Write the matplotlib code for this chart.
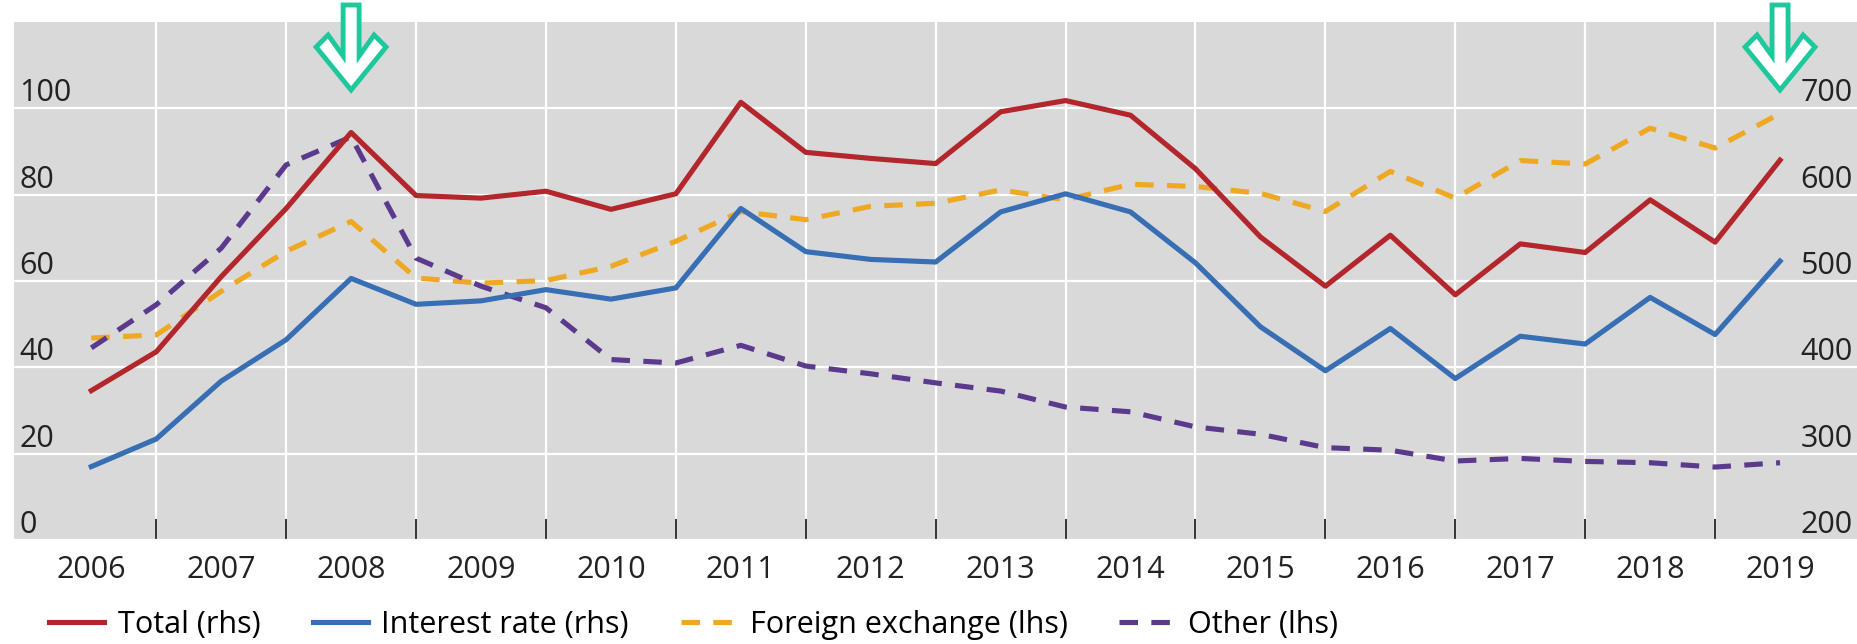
import numpy as np
import matplotlib.pyplot as plt
from matplotlib.patches import Polygon

# semiannual observations, 2006 to 2019
periods = np.arange(2006.0, 2019.5, 0.5)
years = list(range(2006, 2020))

# rhs (USD trn)
total = [373, 418, 505, 584, 672, 599, 596, 604, 583, 601, 707, 649, 642, 636,
         696, 709, 692, 630, 551, 494, 553, 484, 543, 533, 594, 545, 640]
interest_rate = [285, 317, 384, 432, 503, 473, 477, 490, 479, 492, 584, 534, 525, 522,
                 580, 601, 580, 521, 447, 396, 445, 387, 436, 427, 481, 438, 523]
# lhs (USD trn)
foreign_exchange = [46.8, 47.5, 57.6, 66.9, 73.8, 60.7, 59.5, 60.1, 63.4, 69.2, 76.1, 74.2, 77.3, 78.0,
                    81.1, 78.8, 82.4, 81.9, 80.3, 76.1, 85.4, 79.2, 87.9, 87.1, 95.4, 90.8, 98.8]
other = [44.5, 54.5, 67.6, 86.9, 93.4, 65.3, 58.8, 53.8, 41.8, 41.0, 45.1, 40.3, 38.5, 36.4,
         34.5, 30.8, 29.7, 26.2, 24.5, 21.4, 20.8, 18.3, 18.9, 18.2, 17.9, 16.9, 17.9]

lhs_ticks = [0, 20, 40, 60, 80, 100]
rhs_ticks = [200, 300, 400, 500, 600, 700]
arrow_years = [2008, 2019]

red = '#b2262c'
blue = '#376eb4'
orange = '#efa821'
purple = '#5b3a8e'
green = '#1dc99c'

plt.rcParams['font.family'] = ['Open Sans', 'DejaVu Sans']
fs = 22

W, H = 1858, 644
fig = plt.figure(figsize=(W / 100, H / 100), dpi=100)
ax = fig.add_axes([14 / W, 104 / H, 1844 / W, 518 / H])
ax.set_facecolor('#d9d9d9')
ax2 = ax.twinx()

lw = 3.7
l_fx, = ax.plot(periods, foreign_exchange, color=orange, lw=lw, dashes=(3.6, 2.6),
                label='Foreign exchange (lhs)')
l_ot, = ax.plot(periods, other, color=purple, lw=lw, dashes=(3.6, 2.6), label='Other (lhs)')
l_tot, = ax2.plot(periods, total, color=red, lw=lw, label='Total (rhs)')
l_ir, = ax2.plot(periods, interest_rate, color=blue, lw=lw, label='Interest rate (rhs)')

ax.set_xlim(2005.405, 2019.6)
ax.set_ylim(0, 120)
ax2.set_ylim(200, 800)

ax.set_xticks(np.arange(2006.5, 2019, 1))
ax.set_xticks(years, minor=True)
ax.set_xticklabels(years, minor=True)
ax.tick_params(axis='x', which='major', direction='in', length=15, width=1.4,
               color='#333333', labelbottom=False)
ax.tick_params(axis='x', which='minor', length=0, pad=11, labelsize=fs, labelcolor='#222222')

ax.set_yticks(lhs_ticks)
ax2.set_yticks(rhs_ticks)
ax.tick_params(axis='y', length=0, pad=-4, labelsize=fs, labelcolor='#222222')
ax2.tick_params(axis='y', length=0, pad=-4, labelsize=fs, labelcolor='#222222')
for lab in ax.get_yticklabels():
    lab.set_ha('left')
    lab.set_va('bottom')
for lab in ax2.get_yticklabels():
    lab.set_ha('right')
    lab.set_va('bottom')

ax.grid(axis='y', color='white', lw=1.6)
ax.grid(axis='x', which='major', color='white', lw=1.6)
ax.set_axisbelow(True)
for a in (ax, ax2):
    for s in a.spines.values():
        s.set_visible(False)

fig.legend([l_tot, l_ir, l_fx, l_ot],
           ['Total (rhs)', 'Interest rate (rhs)', 'Foreign exchange (lhs)', 'Other (lhs)'],
           loc='center left', bbox_to_anchor=(0.0265, 0.03), ncol=4, frameon=False,
           fontsize=fs, handlelength=1.8, handletextpad=0.45, columnspacing=1.7,
           borderpad=0, borderaxespad=0)

# green highlight arrows (pixel offsets from centre, y from top of figure)
arrow_shape = [(0, 90), (35, 47), (23, 35), (8, 56), (8, 5), (-8, 5), (-8, 56), (-23, 35), (-35, 47)]
for yr in arrow_years:
    xc = ax.transData.transform((yr, 0))[0]
    pts = [((xc + dx) / W, (H - dy) / H) for dx, dy in arrow_shape]
    fig.add_artist(Polygon(pts, closed=True, transform=fig.transFigure, facecolor='white',
                           edgecolor=green, lw=3.5, joinstyle='miter'))

fig.savefig('out.png', dpi=100)
